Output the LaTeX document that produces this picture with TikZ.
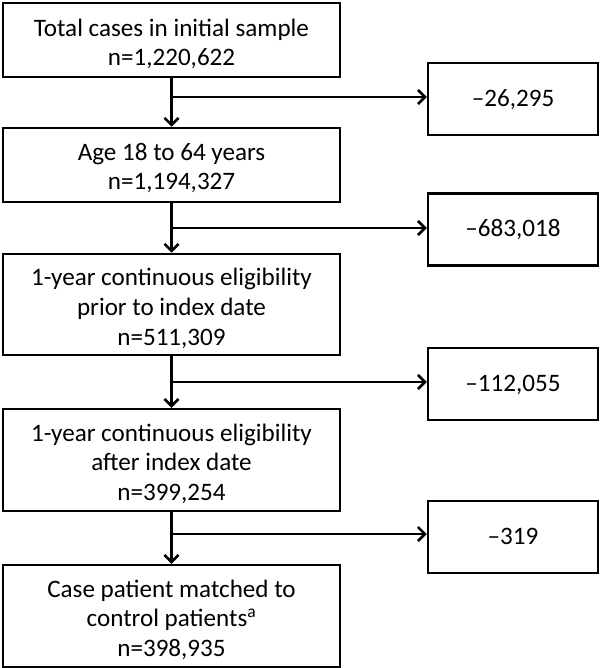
\documentclass[tikz,border=0pt]{standalone}
\usepackage{fontspec}
\setmainfont{Carlito}
\usetikzlibrary{arrows.meta}
\newcommand{\boxtext}[2][5bp]{\raisebox{-#1}[\height][\depth]{\begin{tabular}{@{}c@{}}#2\end{tabular}}}
\begin{document}
\begin{tikzpicture}[x=1bp,y=-1bp,
  mainbox/.style={draw, line width=2.5bp, minimum width=337bp, inner sep=0pt,
    font=\fontsize{25.2}{30}\selectfont},
  sidebox/.style={draw, line width=2.5bp, minimum width=170bp, minimum height=72bp, inner sep=0pt,
    font=\fontsize{25.2}{30}\selectfont},
  flow/.style={line width=2.5bp, -{Straight Barb[length=7bp,width=14bp]}}]
\useasboundingbox (0,0) rectangle (601,668);
\node[mainbox, minimum height=74bp] (b1) at (171.5,40) {\boxtext[5bp]{Total cases in initial sample\\n=1,220,622}};
\node[mainbox, minimum height=74bp] (b2) at (171.5,165) {\boxtext[4bp]{Age 18 to 64 years\\n=1,194,327}};
\node[mainbox, minimum height=101bp] (b3) at (171.5,304.5) {\boxtext[5bp]{1-year continuous eligibility\\prior to index date\\n=511,309}};
\node[mainbox, minimum height=102bp] (b4) at (171.5,460) {\boxtext[5bp]{1-year continuous eligibility\\after index date\\n=399,254}};
\node[mainbox, minimum height=102bp] (b5) at (171.5,616) {\boxtext[5bp]{Case patient matched to\\control patients\textsuperscript{a}\\n=398,935}};
\node[sidebox] (r1) at (513,99) {\boxtext[1.5bp]{–26,295}};
\node[sidebox] (r2) at (513,229.5) {\boxtext[1.5bp]{–683,018}};
\node[sidebox] (r3) at (513,384) {\boxtext[1.5bp]{–112,055}};
\node[sidebox] (r4) at (513,537) {\boxtext[1.5bp]{–319}};
\coordinate (c1) at (171.5,97);
\coordinate (c2) at (171.5,228);
\coordinate (c3) at (171.5,382);
\coordinate (c4) at (171.5,534);
\draw[flow] (b1.south) -- (b2.north);
\draw[flow] (b2.south) -- (b3.north);
\draw[flow] (b3.south) -- (b4.north);
\draw[flow] (b4.south) -- (b5.north);
\draw[flow] (c1) -- (c1 -| r1.west);
\draw[flow] (c2) -- (c2 -| r2.west);
\draw[flow] (c3) -- (c3 -| r3.west);
\draw[flow] (c4) -- (c4 -| r4.west);
\end{tikzpicture}
\end{document}
